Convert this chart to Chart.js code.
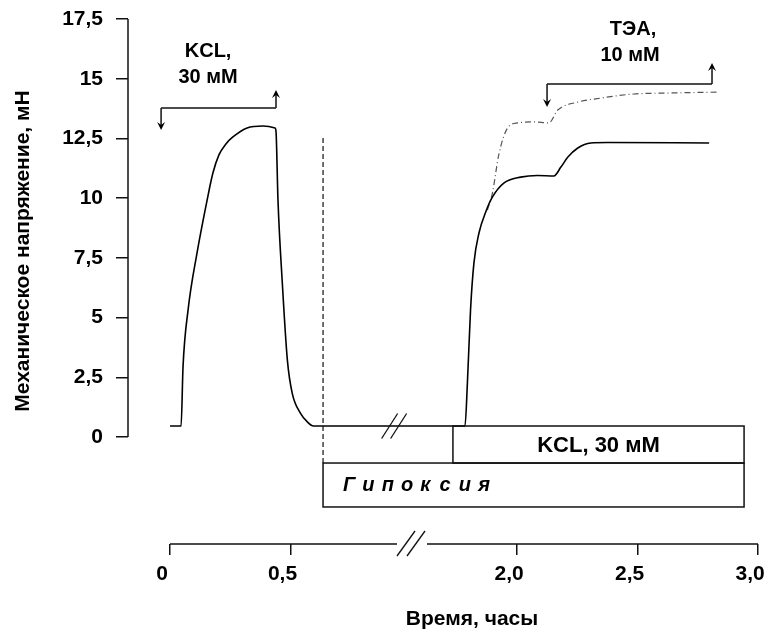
<!DOCTYPE html>
<html>
<head>
<meta charset="utf-8">
<script src="https://cdn.jsdelivr.net/npm/chart.js@4.4.1/dist/chart.umd.min.js"></script>
<style>
  html, body { margin: 0; padding: 0; background: #fff; }
  #wrap { width: 764px; height: 637px; }
</style>
</head>
<body>
<div id="wrap"><canvas id="tension" width="764" height="637"></canvas></div>
<script>
// time axis is broken between ~0.94 h and ~1.5 h
const BREAK_AT = 0.94;
const GAP = 0.56;
const compress = t => (t > BREAK_AT ? t - GAP : t);

// KCL response (solid line), hours / mN
const kclTime = [0, 0.046, 0.054, 0.075, 0.112, 0.154, 0.178, 0.203, 0.232, 0.261, 0.320, 0.386, 0.436, 0.440,
  0.448, 0.466, 0.487, 0.507, 0.541, 0.570, 0.595,
  1.784, 1.794, 1.807, 1.821, 1.842, 1.870, 1.898, 1.945, 2.015, 2.085, 2.153, 2.182, 2.211, 2.252, 2.306, 2.377, 2.797];
const kclForce = [0.46, 0.46, 2.93, 5.32, 7.70, 9.92, 11.05, 11.81, 12.27, 12.56, 12.94, 13.02, 12.94, 12.77,
  9.92, 6.45, 3.22, 1.84, 1.00, 0.63, 0.46,
  0.46, 2.26, 5.32, 7.28, 8.54, 9.42, 10.05, 10.63, 10.88, 10.95, 10.93, 11.30, 11.72, 12.10, 12.31, 12.33, 12.31];

// with TEA (dash-dot line)
const teaTime = [1.877, 1.898, 1.924, 1.961, 2.003, 2.069, 2.132, 2.169, 2.252, 2.348, 2.485, 2.627, 2.834];
const teaForce = [9.50, 10.22, 11.81, 12.94, 13.15, 13.19, 13.15, 13.69, 14.02, 14.19, 14.36, 14.40, 14.44];

const xTickHours = [0, 0.5, 2.0, 2.5, 3.0];
const xTickLabels = ['0', '0,5', '2,0', '2,5', '3,0'];
const yTicks = [0, 2.5, 5, 7.5, 10, 12.5, 15, 17.5];
const yTickLabels = ['0', '2,5', '5', '7,5', '10', '12,5', '15', '17,5'];

const FONT = "'Liberation Sans', Arial, sans-serif";

const toPoints = (ts, vs) => ts.map((t, i) => ({ x: compress(t), y: vs[i] }));

const marks = {
  id: 'marks',
  afterDraw(chart) {
    const { ctx, scales: { x, y } } = chart;
    const px = t => x.getPixelForValue(compress(t));
    const py = v => y.getPixelForValue(v);
    const line = (x1, y1, x2, y2) => { ctx.beginPath(); ctx.moveTo(x1, y1); ctx.lineTo(x2, y2); ctx.stroke(); };
    const text = (s, xx, yy, font) => { ctx.font = font; ctx.fillText(s, xx, yy); };
    const bold = 'bold 20px ' + FONT;

    ctx.save();
    ctx.strokeStyle = '#111';
    ctx.fillStyle = '#000';
    ctx.lineWidth = 1.5;

    // y axis line (0 .. 17.5 only)
    line(x.left, py(0), x.left, py(17.5));

    // broken time axis
    const ax = y.bottom;
    const bx = x.getPixelForValue(1.0);
    line(px(0), ax, bx - 14, ax);
    line(bx + 16, ax, x.right, ax);
    ctx.lineWidth = 1.3;
    [-5, 5].forEach(d => line(bx + d - 9, ax + 12, bx + d + 9, ax - 13));

    // break on the trace
    const dx = px(0.93), dy = py(0.46);
    [-4.5, 4.5].forEach(d => line(dx + d - 8, dy + 12.5, dx + d + 8, dy - 12.5));

    // boxes
    ctx.lineWidth = 1.5;
    const hx1 = px(0.635), hx2 = px(2.942);
    ctx.strokeRect(hx1, py(-1.09), hx2 - hx1, py(-2.93) - py(-1.09));
    const kx1 = px(1.734);
    ctx.strokeRect(kx1, py(0.46), hx2 - kx1, py(-1.09) - py(0.46));

    // hypoxia onset
    ctx.lineWidth = 1.2;
    ctx.setLineDash([5, 3]);
    line(hx1, py(12.52), hx1, py(-1.09));
    ctx.setLineDash([]);

    // brackets with arrows
    ctx.lineWidth = 1.5;
    const bracket = (t1, t2, v, vDown, vUp) => {
      const x1 = px(t1), x2 = px(t2), yy = py(v);
      const yd = py(vDown), yu = py(vUp);
      line(x1, yy, x2, yy);
      line(x1, yy, x1, yd - 3);
      line(x2, yy, x2, yu + 3);
      ctx.beginPath(); ctx.moveTo(x1 - 4, yd - 8); ctx.lineTo(x1, yd); ctx.lineTo(x1 + 4, yd - 8); ctx.lineTo(x1, yd - 5); ctx.closePath(); ctx.fill();
      ctx.beginPath(); ctx.moveTo(x2 - 4, yu + 8); ctx.lineTo(x2, yu); ctx.lineTo(x2 + 4, yu + 8); ctx.lineTo(x2, yu + 5); ctx.closePath(); ctx.fill();
    };
    bracket(-0.037, 0.4398, 13.77, 12.85, 14.53);
    bracket(2.1245, 2.809, 14.78, 13.82, 15.66);

    // labels
    ctx.textAlign = 'center';
    ctx.textBaseline = 'middle';
    text('KCL,', px(0.158), py(16.12), bold);
    text('30 мМ', px(0.158), py(15.07), bold);
    text('ТЭА,', px(2.481), py(17.08), bold);
    text('10 мМ', px(2.469), py(15.99), bold);
    text('KCL, 30 мМ', (kx1 + hx2) / 2, (py(0.46) + py(-1.09)) / 2 + 1, 'bold 22px ' + FONT);

    ctx.textAlign = 'left';
    ctx.font = 'italic bold 20px ' + FONT;
    Array.from('Гипоксия').forEach((ch, i) => ctx.fillText(ch, hx1 + 20 + i * 19.3, (py(-1.09) + py(-2.93)) / 2));

    // axis titles
    ctx.textAlign = 'center';
    text('Время, часы', 472, 619, 'bold 21px ' + FONT);
    ctx.translate(23, 251);
    ctx.rotate(-Math.PI / 2);
    text('Механическое напряжение, мН', 0, 0, 'bold 21px ' + FONT);
    ctx.restore();
  }
};

new Chart(document.getElementById('tension'), {
  type: 'line',
  data: {
    datasets: [
      {
        label: 'KCL',
        data: toPoints(kclTime, kclForce),
        borderColor: '#000',
        borderWidth: 1.6,
        pointRadius: 0,
        cubicInterpolationMode: 'monotone'
      },
      {
        label: 'ТЭА',
        data: toPoints(teaTime, teaForce),
        borderColor: '#555',
        borderWidth: 1.2,
        borderDash: [6, 3, 1, 3],
        pointRadius: 0,
        cubicInterpolationMode: 'monotone'
      }
    ]
  },
  options: {
    responsive: false,
    animation: false,
    layout: { padding: { top: 19, right: 6, left: 0, bottom: 0 } },
    plugins: { legend: { display: false }, tooltip: { enabled: false } },
    scales: {
      x: {
        type: 'linear',
        min: -0.1743,
        max: 3.0 - 0.5602,
        border: { display: false },
        grid: { drawOnChartArea: false, tickLength: 11, color: '#111', lineWidth: 1.5 },
        afterBuildTicks: s => { s.ticks = xTickHours.map(h => ({ value: compress(h > BREAK_AT ? h + 0.0002 : h) })); },
        afterFit: s => { s.height = 93; s.paddingLeft = 0; s.paddingRight = 0; },
        ticks: {
          autoSkip: false,
          maxRotation: 0,
          padding: 7,
          labelOffset: -8,
          color: '#000',
          font: { family: FONT, size: 21, weight: 'bold' },
          callback: (v, i) => xTickLabels[i]
        }
      },
      y: {
        min: -4.48,
        max: 17.5,
        border: { display: false },
        grid: { drawOnChartArea: false, tickLength: 12, color: '#111', lineWidth: 1.5 },
        afterBuildTicks: s => { s.ticks = yTicks.map(v => ({ value: v })); },
        afterFit: s => { s.width = 128; s.paddingTop = 0; s.paddingBottom = 0; },
        ticks: {
          padding: 13,
          color: '#000',
          font: { family: FONT, size: 21, weight: 'bold' },
          callback: (v, i) => yTickLabels[i]
        }
      }
    }
  },
  plugins: [marks]
});
</script>
</body>
</html>
